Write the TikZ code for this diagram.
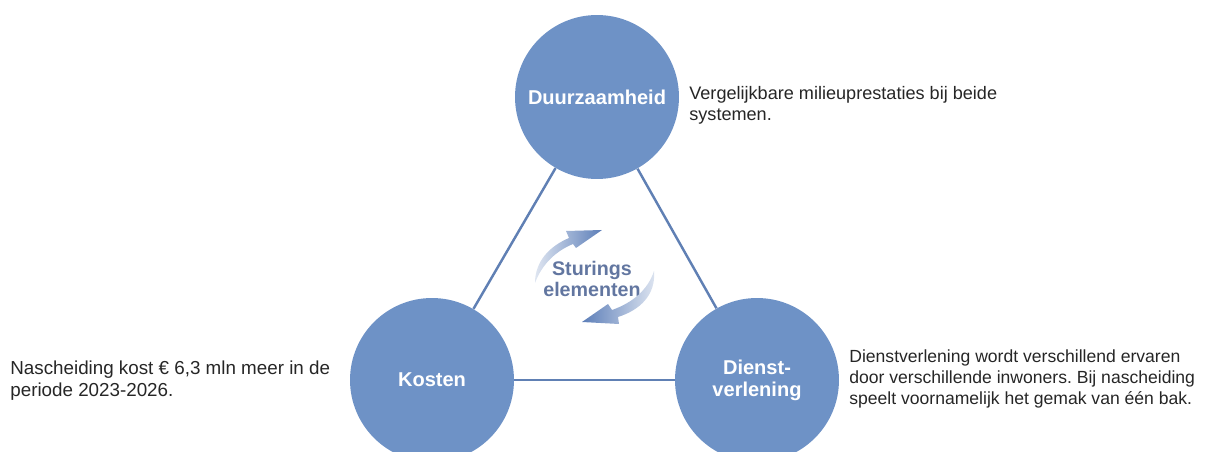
\documentclass[tikz,border=0pt]{standalone}
\usepackage{fontspec}
\setmainfont{Liberation Sans}
\usetikzlibrary{positioning}
\definecolor{bolblauw}{RGB}{110,146,198}
\definecolor{lijnblauw}{RGB}{96,128,180}
\definecolor{pijlblauw}{RGB}{92,126,184}
\definecolor{middentekst}{RGB}{98,118,160}
\tikzset{
  bol/.style={circle, fill=bolblauw, minimum size=3.28cm, inner sep=0pt,
    text=white, align=center, font=\bfseries\fontsize{11.4}{12.6}\selectfont},
  verbinding/.style={draw=lijnblauw, line width=1.4pt},
  uitleg/.style={anchor=north west, inner sep=0pt, align=left,
    text=black!85, font=\fontsize{10.2}{12.2}\selectfont},
  midden/.style={align=center, text=middentekst, inner sep=0pt,
    font=\bfseries\fontsize{11.2}{12.2}\selectfont},
}

\begin{document}
\frenchspacing
\begin{tikzpicture}[x=0.02cm, y=-0.02cm]
	\clip (0,0) rectangle (1208,452);
	\useasboundingbox (0,0) rectangle (1208,452);
	% drie bollen
	\node[bol] (duur)   at (597, 97) {Duurzaamheid};
	\node[bol] (kosten) at (432,380) {Kosten};
	\node[bol] (dienst) at (757,380) {Dienst-\\verlening};
	\draw[verbinding] (duur) -- (kosten);
	\draw[verbinding] (duur) -- (dienst);
	\draw[verbinding] (kosten) -- (dienst);
	% midden
	\node[midden] (sturing) at (592,279) {Sturings\\elementen};
	\shade[left color=white!80!pijlblauw, right color=pijlblauw]
	  (535,283) .. controls (535,261) and (550,246) .. (569,238)
	  -- (566,231) -- (602,230) -- (576,248) -- (573,244)
	  .. controls (556,251) and (542,264) .. cycle;
	\shade[left color=pijlblauw, right color=white!80!pijlblauw]
	  (654,271) .. controls (656,295) and (640,310) .. (618,317)
	  -- (619,324) -- (582,322) -- (608,304) -- (612,310)
	  .. controls (632,303) and (648,290) .. cycle;
	% toelichting
	\node[uitleg, font=\fontsize{10.3}{12.2}\selectfont] (duurtekst) at (689, 86) {Vergelijkbare milieuprestaties bij beide\\systemen.};
	\node[uitleg, font=\fontsize{10.7}{12.2}\selectfont] (kostentekst) at (10,361) {Nascheiding kost € 6,3 mln meer in de\\periode 2023-2026.};
	\node[uitleg, font=\fontsize{10}{12.2}\selectfont] (diensttekst) at (849,349) {Dienstverlening wordt verschillend ervaren\\door verschillende inwoners. Bij nascheiding\\speelt voornamelijk het gemak van één bak.};
\end{tikzpicture}
\end{document}
